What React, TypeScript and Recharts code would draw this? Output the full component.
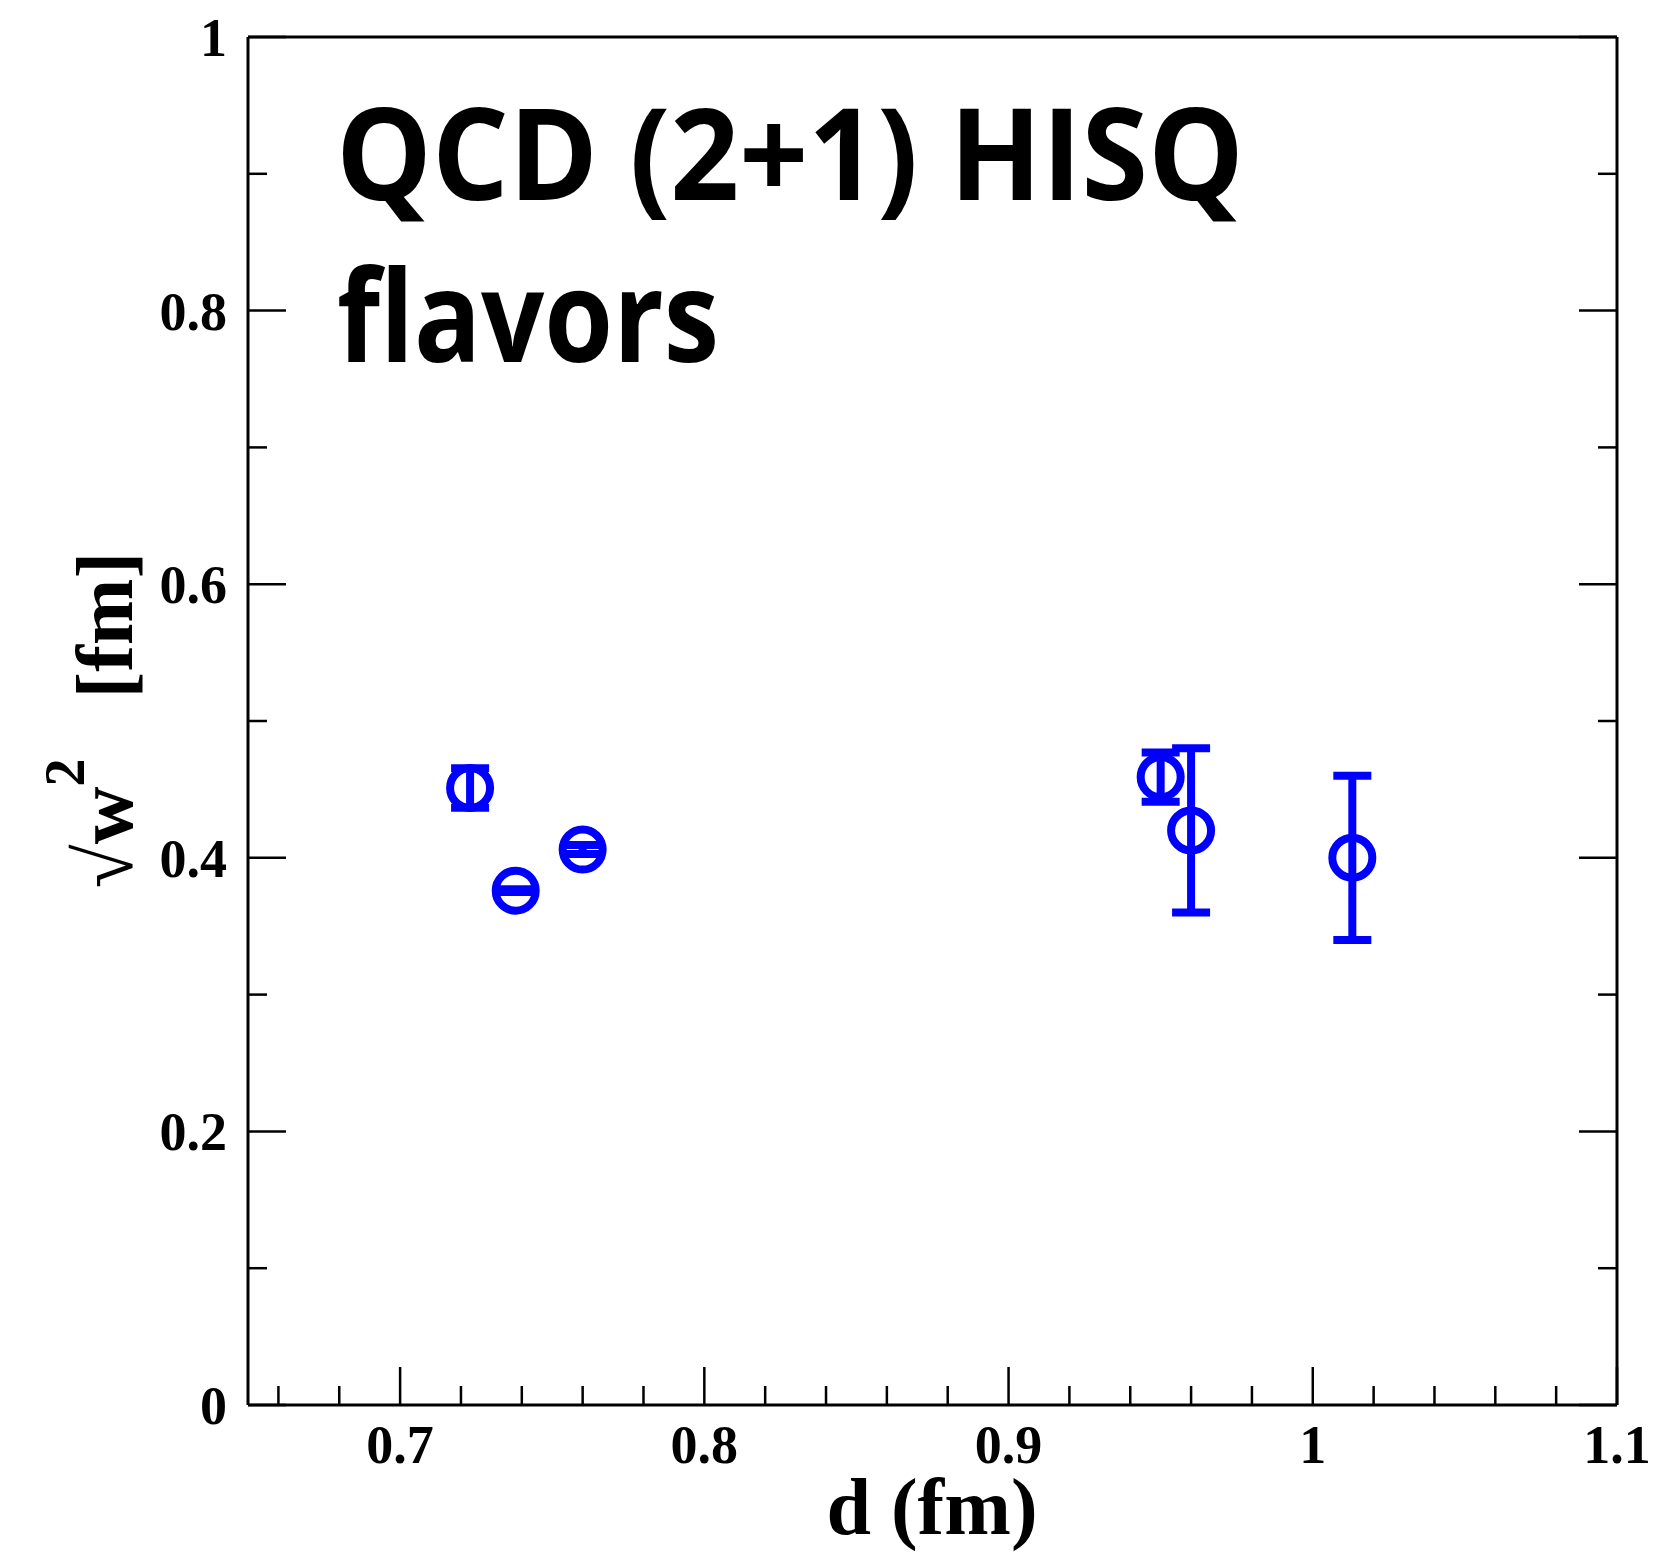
import React from "react";
import { ScatterChart, Scatter, XAxis, YAxis, ErrorBar, Customized } from "recharts";

// d (fm), sqrt(w^2) (fm), error
const dValues = [0.723, 0.738, 0.76, 0.95, 0.96, 1.013];
const wValues = [0.451, 0.376, 0.406, 0.459, 0.42, 0.4];
const wErrors = [0.0145, 0.001, 0.0033, 0.018, 0.06, 0.06];

const xTicks = [0.66, 0.68, 0.7, 0.72, 0.74, 0.76, 0.78, 0.8, 0.82, 0.84, 0.86, 0.88, 0.9, 0.92, 0.94, 0.96, 0.98, 1, 1.02, 1.04, 1.06, 1.08, 1.1];
const xLabeled = [0.7, 0.8, 0.9, 1, 1.1];
const yTicks = [0, 0.1, 0.2, 0.3, 0.4, 0.5, 0.6, 0.7, 0.8, 0.9, 1];
const yLabeled = [0, 0.2, 0.4, 0.6, 0.8, 1];

const data = dValues.map((d, i) => ({ d, w: wValues[i], err: wErrors[i] }));

const BLUE = "#0000ff";
const SERIF = "'Liberation Serif', 'Times New Roman', serif";
const MAJOR = 38;
const MINOR = 19;

const isIn = (list: number[], v: number) => list.some((t) => Math.abs(t - v) < 1e-9);

function BottomTick(props: any) {
  const { x, y, payload } = props;
  const major = isIn(xLabeled, payload.value);
  return (
    <g>
      <line x1={x} y1={y} x2={x} y2={y - (major ? MAJOR : MINOR)} stroke="#000" strokeWidth={2.5} />
      {major && (
        <text x={x} y={y + 58} textAnchor="middle" fontFamily={SERIF} fontWeight="bold" fontSize={54} fill="#000">
          {String(payload.value)}
        </text>
      )}
    </g>
  );
}

function TopTick(props: any) {
  const { x, y, payload } = props;
  const major = isIn(xLabeled, payload.value);
  return <line x1={x} y1={y} x2={x} y2={y + (major ? MAJOR : MINOR)} stroke="#000" strokeWidth={2.5} />;
}

function LeftTick(props: any) {
  const { x, y, payload } = props;
  const major = isIn(yLabeled, payload.value);
  return (
    <g>
      <line x1={x} y1={y} x2={x + (major ? MAJOR : MINOR)} y2={y} stroke="#000" strokeWidth={2.5} />
      {major && (
        <text x={x - 21} y={y + 19} textAnchor="end" fontFamily={SERIF} fontWeight="bold" fontSize={54} fill="#000">
          {String(payload.value)}
        </text>
      )}
    </g>
  );
}

function RightTick(props: any) {
  const { x, y, payload } = props;
  const major = isIn(yLabeled, payload.value);
  return <line x1={x} y1={y} x2={x - (major ? MAJOR : MINOR)} y2={y} stroke="#000" strokeWidth={2.5} />;
}

function Ring(props: any) {
  const { cx, cy } = props;
  return <circle cx={cx} cy={cy} r={20} fill="none" stroke={BLUE} strokeWidth={8} />;
}

function Texts() {
  return (
    <g>
      <text
        x={336}
        y={200}
        textLength={908}
        lengthAdjust="spacingAndGlyphs"
        fontFamily="'Open Sans', sans-serif"
        fontWeight="bold"
        fontSize={128}
        fill="#000"
      >
        QCD (2+1) HISQ
      </text>
      <text
        x={337}
        y={362}
        textLength={382}
        lengthAdjust="spacingAndGlyphs"
        fontFamily="'Open Sans', sans-serif"
        fontWeight="bold"
        fontSize={128}
        fill="#000"
      >
        flavors
      </text>
      <text x={932} y={1534} textAnchor="middle" fontFamily={SERIF} fontWeight="bold" fontSize={80} fill="#000">
        d (fm)
      </text>
      <text
        x={132}
        y={720}
        transform="rotate(-90, 132, 720)"
        textAnchor="middle"
        fontFamily={SERIF}
        fontWeight="bold"
        fontSize={80}
        fill="#000"
      >
        <tspan>√w</tspan>
        <tspan dy={-48} fontSize={56}>2</tspan>
        <tspan dy={48}>{"\u00a0\u00a0\u00a0[fm]"}</tspan>
      </text>
    </g>
  );
}

export default function App() {
  const axisLine = { stroke: "#000", strokeWidth: 3 };
  return (
    <div style={{ position: "absolute", left: 0, top: 0, background: "#fff" }}>
      <ScatterChart width={1661} height={1552} margin={{ top: 0, right: 0, bottom: 0, left: 0 }}>
        <XAxis
          type="number"
          dataKey="d"
          domain={[0.65, 1.1]}
          ticks={xTicks}
          interval={0}
          height={147}
          tickSize={0}
          tickMargin={0}
          tickLine={false}
          axisLine={axisLine}
          tick={<BottomTick />}
          allowDataOverflow
        />
        <XAxis
          xAxisId="top"
          orientation="top"
          type="number"
          domain={[0.65, 1.1]}
          ticks={xTicks}
          interval={0}
          height={37}
          tickSize={0}
          tickMargin={0}
          tickLine={false}
          axisLine={axisLine}
          tick={<TopTick />}
          allowDataOverflow
        />
        <YAxis
          type="number"
          dataKey="w"
          domain={[0, 1]}
          ticks={yTicks}
          interval={0}
          width={248}
          tickSize={0}
          tickMargin={0}
          tickLine={false}
          axisLine={axisLine}
          tick={<LeftTick />}
          allowDataOverflow
        />
        <YAxis
          yAxisId="right"
          orientation="right"
          type="number"
          domain={[0, 1]}
          ticks={yTicks}
          interval={0}
          width={44}
          tickSize={0}
          tickMargin={0}
          tickLine={false}
          axisLine={axisLine}
          tick={<RightTick />}
          allowDataOverflow
        />
        <Scatter data={data} shape={<Ring />} isAnimationActive={false}>
          <ErrorBar dataKey="err" direction="y" width={19} stroke={BLUE} strokeWidth={8} isAnimationActive={false} />
        </Scatter>
        <Customized component={<Texts />} />
      </ScatterChart>
    </div>
  );
}
